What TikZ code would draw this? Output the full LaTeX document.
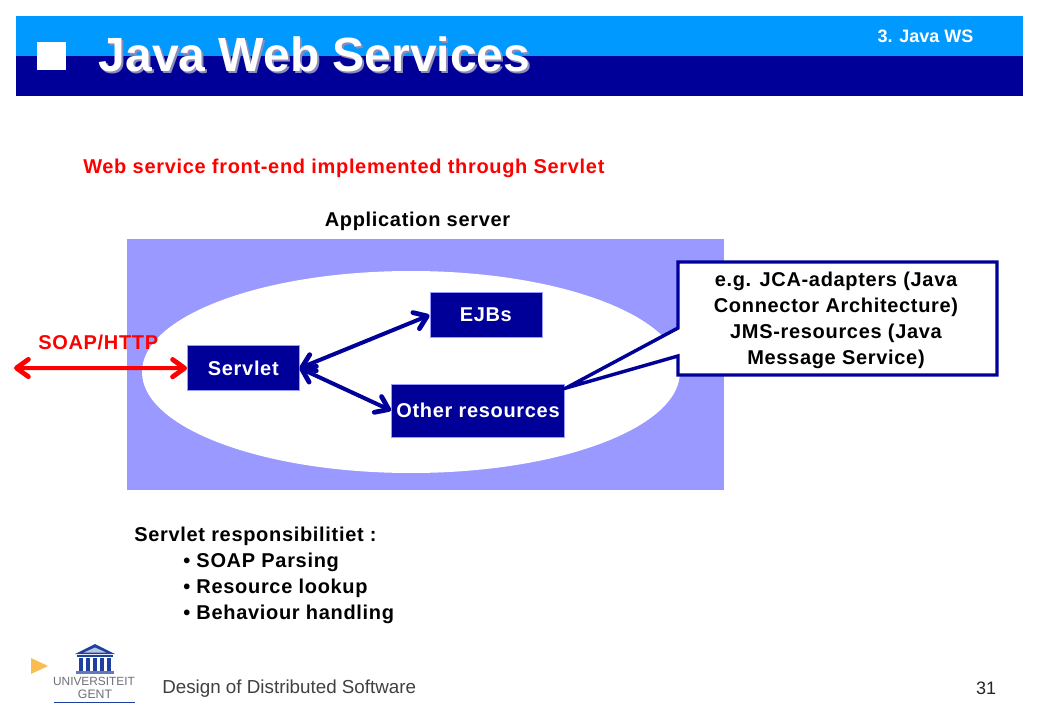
\documentclass[tikz,border=0pt]{standalone}
\usepackage{fontspec}
\setmainfont{Liberation Sans}
\newfontfamily\widefont[LetterSpace=3.4]{Liberation Sans}
\usetikzlibrary{arrows.meta}
\definecolor{navy}{RGB}{0,0,153}
\definecolor{sky}{RGB}{0,153,255}
\definecolor{peri}{RGB}{153,153,255}
\definecolor{shade}{RGB}{140,140,185}
\definecolor{ugblue}{RGB}{30,64,160}
\definecolor{uggrey}{RGB}{110,110,120}
\definecolor{gold}{RGB}{250,190,80}
\tikzset{
 x=0.75pt,y=-0.75pt,
 bluebox/.style={fill=navy,draw=peri,line width=0.5pt,text=white,font=\widefont\fontsize{15}{18}\selectfont\bfseries,inner sep=0pt,anchor=north west},
 lbl/.style={inner sep=0pt,font=\widefont\fontsize{15}{19.5}\selectfont\bfseries},
 barbs/.style={line width=3pt,{Straight Barb[length=9pt,width=13pt,line width=3.6pt,round]}-{Straight Barb[length=9pt,width=13pt,line width=3.6pt,round]}},
}
\begin{document}
\begin{tikzpicture}
\useasboundingbox (0,0) rectangle (1039,720);
\fill[white] (0,0) rectangle (1039,720);
% header
\fill[sky] (16,16) rectangle (1023,56);
\fill[navy] (16,56) rectangle (1023,96);
\fill[white] (37,42) rectangle (66,70);
\node[inner sep=0pt,text=shade,font=\fontsize{36}{40}\selectfont\bfseries] at (316.5,56.5) {Java Web Services};
\node[inner sep=0pt,text=white,font=\fontsize{36}{40}\selectfont\bfseries] (title) at (314.5,54) {Java Web Services};
\node[inner sep=0pt,text=white,font=\fontsize{13.5}{16}\selectfont\bfseries] (sec) at (925.5,36) {3. Java WS};
% headings
\node[lbl,text=red,anchor=west] (head) at (83,168.5) {Web service front-end implemented through Servlet};
\node[lbl] (app) at (417.5,221.5) {Application server};
% server
\fill[peri] (127,239) rectangle (724,490);
\fill[white] (411,372) ellipse [x radius=269,y radius=101];
% SOAP
\node[lbl,text=red,anchor=west] (soap) at (38,342) {SOAP/HTTP};
\coordinate (ext) at (14,368);
% boxes
\node[bluebox,minimum width=84pt,minimum height=33.5pt] (servlet) at (187,345.5) {\raisebox{-1pt}{Servlet}};
\node[bluebox,minimum width=84pt,minimum height=33.5pt] (ejb) at (429.5,292.5) {\raisebox{-1pt}{EJBs}};
\node[bluebox,minimum width=130pt,minimum height=40pt] (other) at (391,383.5) {Other resources};
% connectors
\draw[red,barbs] (ext) -- (servlet.west);
\draw[navy,barbs] (servlet.east) -- (ejb.west);
\draw[navy,barbs] (servlet.east) -- (other.west);
% callout
\draw[navy,line width=2.6pt,fill=white,line join=miter] (678,262) -- (997,262) -- (997,375) -- (678,375) -- (678,356) -- (566,388) -- (678,328) -- cycle;
\node[lbl,align=center,anchor=center,text=black] (note) at (836,320) {e.g. JCA-adapters (Java\\Connector Architecture)\\JMS-resources (Java\\Message Service)};
% responsibilities
\node[lbl,anchor=north west,align=left] (resp) at (134,527) {Servlet responsibilitiet :};
\node[lbl,anchor=north west,align=left] (list) at (183,553) {• SOAP Parsing\\• Resource lookup\\• Behaviour handling};
% footer
\fill[gold] (31,658) -- (48,666) -- (31,674) -- cycle;
\node[inner sep=0pt,anchor=west,text=black!75,font=\fontsize{14.1}{16}\selectfont] (foot) at (162,689) {Design of Distributed Software};
\node[inner sep=0pt,text=black!85,font=\fontsize{13.5}{16}\selectfont] (page) at (986,688) {31};
% logo
\fill[ugblue] (75,654) -- (95,644) -- (115,654) -- cycle;
\fill[white!70!ugblue] (84,652.5) -- (95,647.5) -- (106,652.5) -- cycle;
\fill[ugblue] (77,655) rectangle (113,657);
\foreach \px in {78.5,85.5,92.5,99.5,106.5}{\fill[ugblue] (\px,658) rectangle +(4.5,12.5);}
\fill[ugblue!70] (76,671) rectangle (114,674);
\node[inner sep=0pt,text=uggrey,font=\fontsize{8.9}{10}\selectfont] (ug1) at (94,681.5) {UNIVERSITEIT};
\node[inner sep=0pt,text=uggrey,font=\fontsize{9.2}{10}\selectfont] (ug2) at (95,694) {GENT};
\fill[ugblue] (54,701.5) rectangle (135,702.5);
\end{tikzpicture}
\end{document}
